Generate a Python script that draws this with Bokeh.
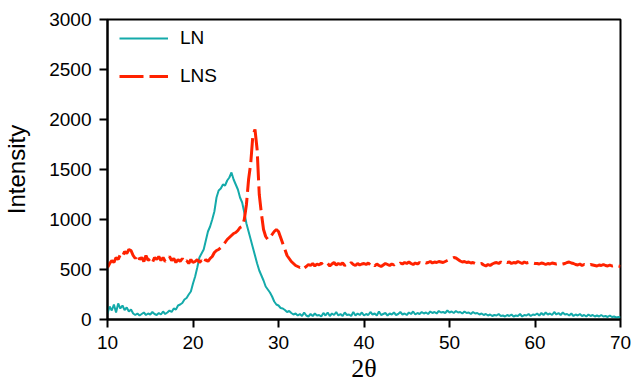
from bokeh.plotting import figure
from bokeh.models import Range1d, Legend, LegendItem, FixedTicker
from bokeh.embed import file_html
from bokeh.resources import INLINE

# 2-theta scan: start angle and step (degrees)
start_2theta = 10.0
step_2theta = 0.25

# LN intensity (teal)
ln = [
    60, 130, 90, 150, 70, 160, 110, 140, 95, 120, 80, 100, 60,
    45, 60, 40, 55, 70, 45, 60, 50, 75, 55, 45, 65, 50, 80, 55, 70,
    90, 75, 110, 100, 140, 150, 165, 200, 215, 250, 280, 360,
    430, 520, 620, 660, 700, 790, 880, 930, 1000, 1080, 1220, 1290,
    1310, 1350, 1340, 1390, 1420, 1470, 1400, 1350, 1300, 1220, 1170, 1070,
    960, 880, 800, 720, 640, 560, 490, 440, 390, 330, 300, 270,
    230, 180, 150, 140, 115, 110, 95, 75, 85, 65, 50, 60,
    40,
    55, 35, 70, 40, 30, 55, 35, 60, 40, 45, 30, 65, 40, 70, 35, 60,
    45, 75, 40, 55, 35, 70, 45, 50, 35, 75, 40, 60, 45, 70, 40,
    55, 45, 75, 50, 60, 40, 80, 45, 55, 65, 40, 60, 50, 70, 45, 55,
    75, 50, 60, 45, 70, 55, 80, 50, 65, 55, 75, 60, 70, 55, 80, 65,
    75, 60, 85, 70, 75, 65, 90, 70,
    80, 65, 85, 70, 75, 60, 80, 65, 70, 55, 75, 60, 65, 50, 60, 45,
    55, 40, 50, 35, 45, 40, 55, 35, 40, 30, 45, 35, 50, 30, 40, 35,
    55, 30, 45, 40, 55, 35, 50, 45,
    60, 40, 65, 45, 70, 50, 60, 45, 75, 50, 65, 45, 70, 50, 55, 40,
    60, 35, 50, 40, 55, 35, 45, 30, 50, 35, 45, 30, 40, 30, 45, 30,
    35, 25, 40, 25, 30, 20, 25, 20,
]

# LNS intensity (red, dashed)
lns = [
    520, 560, 590, 570, 620, 600, 650, 630, 680, 660, 700, 690, 640,
    610, 650, 600, 620, 580, 640, 590, 610, 570, 620, 600, 630, 590, 620, 580, 600,
    630, 590, 610, 570, 600, 580, 610, 570, 590, 560, 600, 570,
    580, 600, 570, 590, 560, 600, 580, 610, 630, 670, 690, 700,
    720, 740, 770, 800, 820, 840, 860, 870, 890, 920, 930, 1000,
    1150, 1400, 1560, 1840, 1900, 1700, 1250, 1060, 900, 830, 800, 820,
    850, 880, 900, 880, 820, 760, 700, 640, 610, 580, 560, 540,
    530,
    520, 535, 515, 530, 550, 540, 560, 535, 555, 545, 565, 540, 550, 560, 535, 555,
    570, 545, 560, 550, 565, 540, 555, 545, 570, 550, 540, 560, 545, 555, 560,
    550, 565, 545, 560, 535, 555, 540, 530, 545, 560, 550, 540, 555, 545, 560, 550,
    565, 555, 570, 560, 575, 560, 550, 565, 555, 570, 560, 575, 565, 570, 580, 565,
    575, 570, 580, 575, 570, 580, 590, 600,
    610, 620, 615, 600, 585, 575, 580, 570, 575, 565, 570, 560, 565, 555, 560, 545,
    535, 550, 540, 555, 565, 570, 560, 575, 565, 580, 570, 575, 560, 570, 565, 580,
    570, 560, 575, 565, 570, 560, 565, 560,
    560, 555, 565, 560, 550, 560, 555, 565, 560, 555, 560, 550, 555, 560, 570, 575,
    565, 560, 550, 545, 555, 540, 550, 545, 540, 550, 545, 540, 535, 545, 540, 550,
    540, 535, 545, 535, 540, 530, 535, 530,
]

x_ticks = [10, 20, 30, 40, 50, 60, 70]
y_ticks = [0, 500, 1000, 1500, 2000, 2500, 3000]

x_ln = [start_2theta + step_2theta * i for i in range(len(ln))]
x_lns = [start_2theta + step_2theta * i for i in range(len(lns))]

TEAL = "#14AAAA"
RED = "#FF2200"
FONT = "Liberation Sans"

p = figure(width=633, height=388, output_backend="svg", toolbar_location=None,
           x_range=Range1d(10, 70), y_range=Range1d(0, 3000),
           min_border_left=107, min_border_right=13, min_border_top=19,
           min_border_bottom=69)

p.xgrid.visible = False
p.ygrid.visible = False
p.outline_line_color = "black"
p.outline_line_width = 2
p.background_fill_color = "white"
p.border_fill_color = "white"

r_ln = p.line(x_ln, ln, line_color=TEAL, line_width=2)
r_lns = p.line(x_lns, lns, line_color=RED, line_width=3, line_dash="24 6")

for ax in (p.xaxis[0], p.yaxis[0]):
    ax.axis_line_width = 2
    ax.axis_line_color = "black"
    ax.major_tick_line_width = 2
    ax.major_tick_line_color = "black"
    ax.major_tick_out = 8
    ax.major_tick_in = 0
    ax.minor_tick_line_color = None
    ax.major_label_text_font = FONT
    ax.major_label_text_font_size = "19px"
    ax.major_label_text_color = "black"
    ax.major_label_standoff = 8

p.xaxis[0].ticker = FixedTicker(ticks=x_ticks)
p.yaxis[0].ticker = FixedTicker(ticks=y_ticks)

p.yaxis[0].axis_label = "Intensity"
p.yaxis[0].axis_label_text_font = FONT
p.yaxis[0].axis_label_text_font_size = "24px"
p.yaxis[0].axis_label_text_font_style = "normal"
p.yaxis[0].axis_label_text_color = "black"
p.yaxis[0].axis_label_standoff = 16

p.xaxis[0].axis_label = "2θ"
p.xaxis[0].axis_label_text_font = "Liberation Serif"
p.xaxis[0].axis_label_text_font_size = "26px"
p.xaxis[0].axis_label_text_font_style = "normal"
p.xaxis[0].axis_label_text_color = "black"
p.xaxis[0].axis_label_standoff = 2

legend = Legend(items=[LegendItem(label="LN", renderers=[r_ln]),
                       LegendItem(label="LNS", renderers=[r_lns])],
                location=(12, 231))
legend.margin = 0
legend.padding = 0
legend.spacing = 14
legend.glyph_width = 49
legend.glyph_height = 24
legend.label_height = 24
legend.label_standoff = 12
legend.label_text_font = FONT
legend.label_text_font_size = "19px"
legend.label_text_color = "black"
legend.border_line_alpha = 0
legend.background_fill_alpha = 0
p.add_layout(legend, "center")

open("out.html", "w").write(file_html(p, INLINE))
